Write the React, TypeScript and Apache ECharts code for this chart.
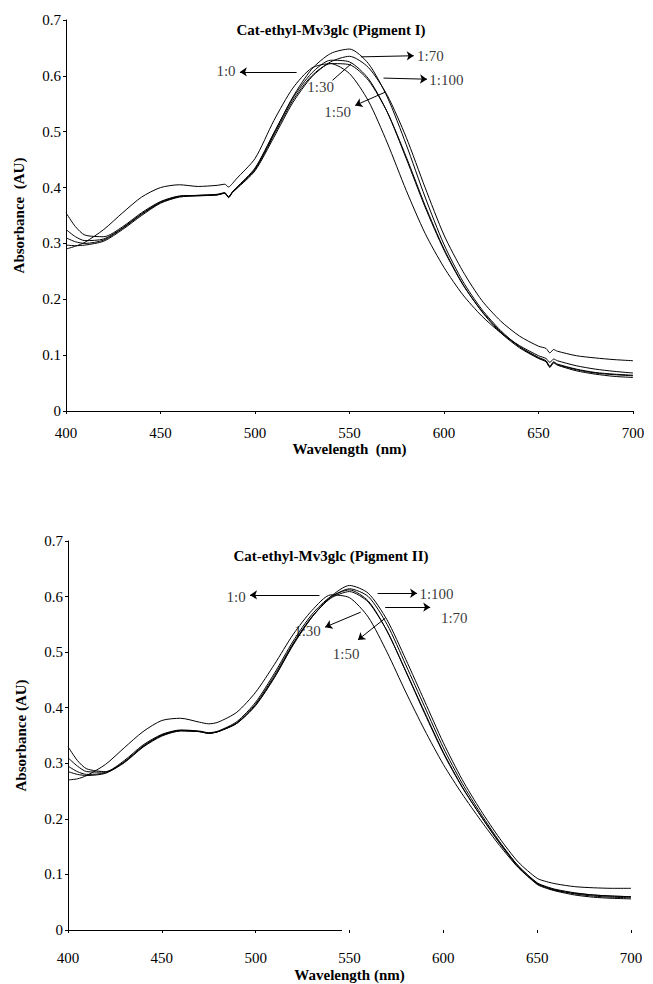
import React, { useEffect, useRef } from "react";
import * as echarts from "echarts";

// ---------- DATA ----------
const SERIES_NAMES = ["1:0", "1:30", "1:50", "1:70", "1:100"];

// Pigment I
const WL_TOP = [400, 405, 410, 420, 430, 440, 450, 460, 470, 480, 484, 486, 488, 490, 500, 510, 520, 530, 540, 550, 560, 570, 580, 590, 600, 610, 620, 630, 640, 650, 654, 656, 658, 660, 670, 680, 690, 700];
const TOP_1_0 = [0.290, 0.295, 0.302, 0.325, 0.355, 0.383, 0.400, 0.405, 0.402, 0.404, 0.406, 0.401, 0.407, 0.415, 0.452, 0.520, 0.578, 0.614, 0.622, 0.604, 0.555, 0.480, 0.395, 0.318, 0.257, 0.208, 0.170, 0.140, 0.117, 0.099, 0.094, 0.087, 0.093, 0.090, 0.081, 0.075, 0.071, 0.068];
const TOP_1_30 = [0.355, 0.330, 0.315, 0.312, 0.330, 0.355, 0.375, 0.385, 0.386, 0.387, 0.390, 0.382, 0.392, 0.399, 0.435, 0.498, 0.560, 0.605, 0.628, 0.625, 0.595, 0.535, 0.452, 0.365, 0.288, 0.226, 0.179, 0.142, 0.115, 0.096, 0.090, 0.080, 0.088, 0.084, 0.075, 0.069, 0.066, 0.064];
const TOP_1_50 = [0.325, 0.312, 0.305, 0.308, 0.328, 0.353, 0.374, 0.384, 0.386, 0.387, 0.390, 0.382, 0.391, 0.398, 0.432, 0.494, 0.556, 0.600, 0.622, 0.620, 0.592, 0.535, 0.455, 0.368, 0.290, 0.227, 0.178, 0.140, 0.113, 0.094, 0.088, 0.078, 0.086, 0.082, 0.072, 0.066, 0.062, 0.060];
const TOP_1_70 = [0.310, 0.303, 0.300, 0.306, 0.327, 0.352, 0.373, 0.384, 0.386, 0.388, 0.391, 0.383, 0.392, 0.399, 0.433, 0.497, 0.562, 0.612, 0.640, 0.648, 0.622, 0.562, 0.477, 0.383, 0.298, 0.232, 0.182, 0.144, 0.115, 0.095, 0.089, 0.079, 0.087, 0.083, 0.074, 0.068, 0.065, 0.063];
const TOP_1_100 = [0.297, 0.296, 0.297, 0.304, 0.325, 0.350, 0.372, 0.383, 0.385, 0.387, 0.390, 0.384, 0.391, 0.397, 0.430, 0.490, 0.552, 0.598, 0.625, 0.635, 0.615, 0.565, 0.490, 0.400, 0.315, 0.250, 0.198, 0.161, 0.134, 0.116, 0.112, 0.104, 0.110, 0.107, 0.099, 0.095, 0.092, 0.090];

// Pigment II
const WL_BOT = [400, 405, 410, 420, 430, 440, 450, 460, 470, 475, 480, 490, 500, 510, 520, 530, 540, 550, 560, 570, 580, 590, 600, 610, 620, 630, 640, 650, 655, 660, 670, 680, 690, 700];
const BOT_1_0 = [0.270, 0.272, 0.278, 0.298, 0.328, 0.357, 0.377, 0.381, 0.374, 0.371, 0.374, 0.392, 0.428, 0.478, 0.532, 0.575, 0.603, 0.598, 0.563, 0.500, 0.428, 0.360, 0.298, 0.245, 0.197, 0.152, 0.112, 0.083, 0.076, 0.071, 0.066, 0.063, 0.061, 0.060];
const BOT_1_30 = [0.330, 0.305, 0.290, 0.285, 0.305, 0.333, 0.352, 0.360, 0.358, 0.355, 0.358, 0.375, 0.410, 0.462, 0.520, 0.568, 0.600, 0.612, 0.592, 0.538, 0.465, 0.390, 0.318, 0.257, 0.205, 0.157, 0.115, 0.085, 0.078, 0.073, 0.067, 0.063, 0.061, 0.060];
const BOT_1_50 = [0.310, 0.295, 0.285, 0.284, 0.303, 0.331, 0.351, 0.359, 0.357, 0.354, 0.357, 0.373, 0.407, 0.458, 0.516, 0.564, 0.597, 0.609, 0.590, 0.538, 0.466, 0.392, 0.320, 0.258, 0.205, 0.156, 0.113, 0.082, 0.075, 0.070, 0.063, 0.059, 0.057, 0.056];
const BOT_1_70 = [0.295, 0.285, 0.280, 0.283, 0.302, 0.330, 0.350, 0.359, 0.357, 0.354, 0.357, 0.372, 0.405, 0.455, 0.514, 0.563, 0.598, 0.614, 0.600, 0.550, 0.477, 0.402, 0.328, 0.264, 0.209, 0.159, 0.115, 0.084, 0.077, 0.072, 0.065, 0.061, 0.059, 0.058];
const BOT_1_100 = [0.285, 0.280, 0.278, 0.282, 0.301, 0.329, 0.349, 0.358, 0.357, 0.354, 0.357, 0.372, 0.404, 0.454, 0.513, 0.563, 0.600, 0.620, 0.606, 0.558, 0.487, 0.412, 0.337, 0.271, 0.215, 0.165, 0.122, 0.093, 0.087, 0.083, 0.078, 0.076, 0.075, 0.075];

const X_TICKS = [400, 450, 500, 550, 600, 650, 700];
const Y_TICKS = [0, 0.1, 0.2, 0.3, 0.4, 0.5, 0.6, 0.7];

// Annotations in data coordinates: line from -> to (arrow head at "to"), label anchor
const ANN_TOP = [
  { label: "1:70", from: [556, 0.634], to: [584, 0.636], at: [586, 0.634], align: "left", arrow: true },
  { label: "1:0", from: [522, 0.607], to: [492, 0.607], at: [490, 0.607], align: "right", arrow: true },
  { label: "1:30", from: [551, 0.622], to: [541, 0.592], at: [542, 0.58], align: "right", arrow: false },
  { label: "1:100", from: [568, 0.596], to: [591, 0.594], at: [592.5, 0.592], align: "left", arrow: true },
  { label: "1:50", from: [569, 0.571], to: [553, 0.547], at: [551, 0.535], align: "right", arrow: true },
];
const ANN_BOT = [
  { label: "1:100", from: [565, 0.606], to: [586, 0.606], at: [587.5, 0.604], align: "left", arrow: true },
  { label: "1:0", from: [534, 0.603], to: [497, 0.603], at: [495, 0.599], align: "right", arrow: true },
  { label: "1:70", from: [569, 0.581], to: [593, 0.581], at: [599, 0.561], align: "left", arrow: true },
  { label: "1:30", from: [556, 0.572], to: [537, 0.545], at: [535, 0.538], align: "right", arrow: true },
  { label: "1:50", from: [569, 0.561], to: [554.5, 0.522], at: [548.5, 0.495], align: "center", arrow: true },
];
const BOT_AXIS_LINE_END = 546;

const TITLE_TOP = "Cat-ethyl-Mv3glc (Pigment I)";
const TITLE_BOT = "Cat-ethyl-Mv3glc (Pigment II)";

const FONT = "Liberation Serif";

function zip(xs: number[], ys: number[]) {
  return xs.map((x, i) => [x, ys[i]]);
}

export default function App() {
  const ref = useRef<HTMLDivElement>(null);

  useEffect(() => {
    document.body.style.margin = "0";
    if (!ref.current) return;
    const chart = echarts.init(ref.current, undefined, { renderer: "svg" });

    const topData = [TOP_1_0, TOP_1_30, TOP_1_50, TOP_1_70, TOP_1_100];
    const botData = [BOT_1_0, BOT_1_30, BOT_1_50, BOT_1_70, BOT_1_100];

    const xAxisBase = (gi: number, showLine: boolean, labelMargin: number, nameGap: number, name: string) => ({
      type: "value",
      gridIndex: gi,
      min: 400,
      max: 700,
      interval: 50,
      name,
      nameLocation: "middle",
      nameGap,
      nameTextStyle: { fontFamily: FONT, fontWeight: "bold", fontSize: 15, color: "#000" },
      axisLine: { show: showLine, lineStyle: { color: "#000", width: 1 } },
      axisTick: { show: true, inside: false, length: 3, lineStyle: { color: "#000" } },
      axisLabel: {
        fontFamily: FONT,
        fontSize: 15,
        color: "#000",
        margin: labelMargin,
        formatter: (v: number) => (X_TICKS.includes(v) ? String(v) : ""),
      },
      splitLine: { show: false },
    });

    const yAxisBase = (gi: number, name: string) => ({
      type: "value",
      gridIndex: gi,
      min: 0,
      max: 0.7,
      interval: 0.1,
      name,
      nameLocation: "middle",
      nameGap: 40,
      nameRotate: 90,
      nameTextStyle: { fontFamily: FONT, fontWeight: "bold", fontSize: 15, color: "#000" },
      axisLine: { show: true, lineStyle: { color: "#000", width: 1 } },
      axisTick: { show: true, inside: false, length: 3, lineStyle: { color: "#000" } },
      axisLabel: {
        fontFamily: FONT,
        fontSize: 15,
        color: "#000",
        margin: 5,
        formatter: (v: number) => {
          const t = Y_TICKS.find((k) => Math.abs(k - v) < 1e-6);
          if (t === undefined) return "";
          return t === 0 ? "0" : t.toFixed(1);
        },
      },
      splitLine: { show: false },
    });

    const curveSeries = (gi: number, wl: number[], data: number[][]) =>
      data.map((vals, i) => ({
        type: "line",
        name: SERIES_NAMES[i],
        xAxisIndex: gi,
        yAxisIndex: gi,
        data: zip(wl, vals),
        showSymbol: false,
        smooth: 0.25,
        lineStyle: { color: "#000", width: 1 },
        emphasis: { disabled: true },
        silent: true,
      }));

    const annSeries = (gi: number, ann: any[], extraLines: any[]) => [
      {
        type: "line",
        xAxisIndex: gi,
        yAxisIndex: gi,
        data: [],
        silent: true,
        markLine: {
          silent: true,
          animation: false,
          symbolSize: 7,
          label: { show: false },
          emphasis: { disabled: true },
          lineStyle: { color: "#000", width: 1, type: "solid" },
          data: [
            ...ann.map((a) => [
              { coord: a.from, symbol: "none" },
              { coord: a.to, symbol: a.arrow ? "arrow" : "none" },
            ]),
            ...extraLines,
          ],
        },
      },
      {
        type: "scatter",
        xAxisIndex: gi,
        yAxisIndex: gi,
        symbolSize: 1,
        itemStyle: { color: "transparent" },
        silent: true,
        data: ann.map((a) => ({
          value: a.at,
          name: a.label,
          label: {
            show: true,
            formatter: a.label,
            position: [0, 0],
            align: a.align,
            verticalAlign: "middle",
            fontFamily: FONT,
            fontSize: 15,
            color: "#000",
          },
        })),
      },
    ];

    const option: any = {
      animation: false,
      backgroundColor: "#fff",
      grid: [
        { left: 66, top: 20, width: 567, height: 391, containLabel: false },
        { left: 68, top: 541, width: 563, height: 389, containLabel: false },
      ],
      xAxis: [
        xAxisBase(0, true, 14, 30, "Wavelength  (nm)"),
        xAxisBase(1, false, 20, 37, "Wavelength (nm)"),
      ],
      yAxis: [yAxisBase(0, "Absorbance  (AU)"), yAxisBase(1, "Absorbance (AU)")],
      graphic: [
        {
          type: "text",
          x: 331,
          y: 30,
          style: { text: TITLE_TOP, fontFamily: FONT, fontWeight: "bold", fontSize: 15, fill: "#000", textAlign: "center", textVerticalAlign: "middle" },
        },
        {
          type: "text",
          x: 331,
          y: 556,
          style: { text: TITLE_BOT, fontFamily: FONT, fontWeight: "bold", fontSize: 15, fill: "#000", textAlign: "center", textVerticalAlign: "middle" },
        },
      ],
      series: [
        ...curveSeries(0, WL_TOP, topData),
        ...curveSeries(1, WL_BOT, botData),
        ...annSeries(0, ANN_TOP, []),
        ...annSeries(1, ANN_BOT, [
          [
            { coord: [400, 0], symbol: "none" },
            { coord: [BOT_AXIS_LINE_END, 0], symbol: "none" },
          ],
        ]),
      ],
    };

    chart.setOption(option);
    return () => chart.dispose();
  }, []);

  return <div ref={ref} style={{ width: 653, height: 984 }} />;
}
